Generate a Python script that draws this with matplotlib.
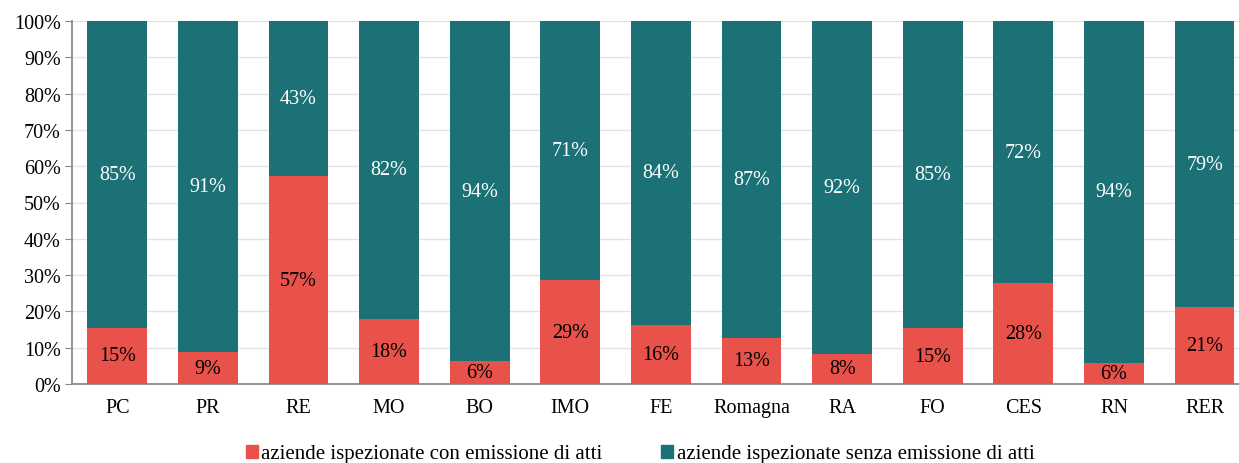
import matplotlib.pyplot as plt
from matplotlib.patches import Patch

plt.rcParams['font.family'] = ['Liberation Serif', 'DejaVu Serif']

# data (share of inspected companies, %)
categories = ['PC', 'PR', 'RE', 'MO', 'BO', 'IMO', 'FE', 'Romagna', 'RA', 'FO', 'CES', 'RN', 'RER']
con_atti = [15.5, 8.8, 57.3, 18.0, 6.2, 28.6, 16.3, 12.7, 8.4, 15.4, 27.7, 5.8, 21.2]
senza_atti = [100 - v for v in con_atti]
con_labels = ['15%', '9%', '57%', '18%', '6%', '29%', '16%', '13%', '8%', '15%', '28%', '6%', '21%']
senza_labels = ['85%', '91%', '43%', '82%', '94%', '71%', '84%', '87%', '92%', '85%', '72%', '94%', '79%']

red = '#E9524A'
teal = '#1B7176'

fig = plt.figure(figsize=(12.39, 4.64), dpi=100)
ax = fig.add_axes([72 / 1239, 1 - 385 / 464, 1 - 72 / 1239, 363 / 464])

x = range(len(categories))
ax.bar(x, con_atti, width=0.66, color=red, zorder=3)
ax.bar(x, senza_atti, width=0.66, bottom=con_atti, color=teal, zorder=3)

for i in x:
    ax.text(i, con_atti[i] / 2, con_labels[i], ha='center', va='center',
            fontsize=14.5, color='black', zorder=4)
    ax.text(i, con_atti[i] + senza_atti[i] / 2, senza_labels[i], ha='center', va='center',
            fontsize=14.5, color='white', zorder=4)

ax.set_ylim(0, 100)
ax.set_xlim(-0.5, 12.38)
ax.set_yticks(range(0, 101, 10))
ax.set_yticklabels([f'{v}%' for v in range(0, 101, 10)], fontsize=14.5)
ax.set_xticks(list(x))
ax.set_xticklabels(categories, fontsize=14.5)
ax.tick_params(axis='x', length=0, pad=10)
ax.tick_params(axis='y', length=5, color='#888888', pad=3)
ax.grid(axis='y', color='#e3e3e3', linewidth=1, zorder=0)

for s in ['top', 'right']:
    ax.spines[s].set_visible(False)
for s in ['left', 'bottom']:
    ax.spines[s].set_color('#8c8c8c')
    ax.spines[s].set_linewidth(1.3)

handles = [Patch(color=red, label='aziende ispezionate con emissione di atti'),
           Patch(color=teal, label='aziende ispezionate senza emissione di atti')]
fig.legend(handles=handles, loc='center', bbox_to_anchor=(640 / 1239, 1 - 455 / 464),
           ncol=2, frameon=False, fontsize=15, handlelength=0.6, handleheight=0.6,
           handletextpad=0.15, columnspacing=2.8)

fig.savefig('out.png', dpi=100)
